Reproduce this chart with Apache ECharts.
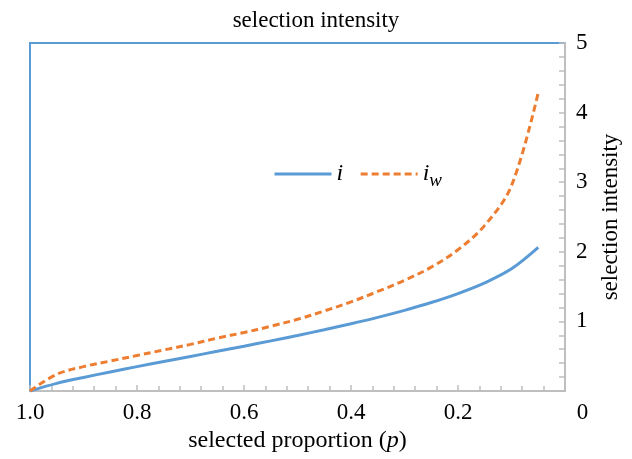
<!DOCTYPE html>
<html>
<head>
<meta charset="utf-8">
<title>selection intensity</title>
<script src="https://cdn.jsdelivr.net/npm/echarts@6/dist/echarts.min.js"></script>
<style>
    html, body {margin: 0; padding: 0; background: #fff;}
    #main {width: 632px; height: 459px;}
</style>
</head>
<body>
<div id="main"></div>
<script>
const FONT = '"Liberation Serif", "DejaVu Serif", serif';
const BLUE = '#5B9BD5';
const ORANGE = '#ED7D31';
const GREY = '#BFBFBF';

// selected proportion p
const proportions = [1.0, 0.95, 0.9, 0.85, 0.8, 0.75, 0.7, 0.65, 0.6, 0.55,
    0.5, 0.45, 0.4, 0.35, 0.3, 0.25, 0.2, 0.15, 0.1, 0.05];
const iValues = [0, 0.11, 0.195, 0.274, 0.35, 0.424, 0.497, 0.57, 0.644, 0.72,
    0.798, 0.88, 0.966, 1.058, 1.159, 1.271, 1.40, 1.554, 1.755, 2.063];
const iwValues = [0, 0.24, 0.35, 0.43, 0.51, 0.59, 0.67, 0.76, 0.84, 0.93,
    1.03, 1.15, 1.28, 1.43, 1.59, 1.78, 2.03, 2.38, 2.95, 4.29];
const xTicks = [1.0, 0.8, 0.6, 0.4, 0.2, 0];
const yTicks = [1, 2, 3, 4, 5];

function pairs(xs, ys) {
    return xs.map(function (x, k) { return [x, ys[k]]; });
}

let myChart = echarts.init(document.getElementById('main'), null, {renderer: 'canvas'});

let option = {
    animation: false,
    title: {
        text: 'selection intensity',
        left: 'center',
        top: 4,
        textStyle: {fontFamily: FONT, fontSize: 23, fontWeight: 'normal', color: '#000'}
    },
    legend: {
        left: 268,
        top: 157,
        itemWidth: 57,
        itemHeight: 14,
        itemGap: 16,
        itemStyle: {opacity: 0},
        lineStyle: {width: 3},
        formatter: function (name) {
            return name === 'i' ? '{it|i}' : '{it|i}{sub|w}';
        },
        textStyle: {
            fontFamily: FONT,
            color: '#000',
            rich: {
                it: {fontFamily: FONT, fontStyle: 'italic', fontSize: 24, color: '#000'},
                sub: {fontFamily: FONT, fontStyle: 'italic', fontSize: 19, color: '#000', padding: [14, 0, 0, 0]}
            }
        },
        data: ['i', 'iw']
    },
    grid: {
        left: 30,
        right: 67,
        top: 43,
        bottom: 68,
        show: true,
        borderColor: BLUE,
        borderWidth: 2,
        containLabel: false
    },
    xAxis: {
        type: 'value',
        inverse: true,
        min: 0,
        max: 1,
        interval: 0.2,
        name: 'selected proportion ({it|p})',
        nameLocation: 'middle',
        nameGap: 36,
        nameTextStyle: {
            fontFamily: FONT, fontSize: 24, color: '#000',
            rich: {it: {fontFamily: FONT, fontSize: 24, fontStyle: 'italic', color: '#000'}}
        },
        axisLine: {show: true, lineStyle: {color: GREY, width: 2}},
        axisTick: {show: true, inside: true, length: 6, lineStyle: {color: GREY, width: 1.5}},
        minorTick: {show: true, splitNumber: 5, length: 5, lineStyle: {color: GREY, width: 1.5}},
        splitLine: {show: false},
        axisLabel: {
            margin: 10,
            fontFamily: FONT,
            fontSize: 23,
            color: '#000',
            formatter: function (v) {
                if (xTicks.indexOf(v) < 0) return '';
                if (v === 0) return '{z|0}';
                return v.toFixed(1);
            },
            rich: {z: {fontFamily: FONT, fontSize: 23, color: '#000', padding: [0, 0, 0, 35]}}
        }
    },
    yAxis: {
        type: 'value',
        position: 'right',
        min: 0,
        max: 5,
        interval: 1,
        name: 'selection intensity',
        nameLocation: 'middle',
        nameRotate: 90,
        nameGap: 34,
        nameTextStyle: {fontFamily: FONT, fontSize: 23, color: '#000'},
        axisLine: {show: true, lineStyle: {color: GREY, width: 2}},
        axisTick: {show: true, inside: true, length: 6, lineStyle: {color: GREY, width: 1.5}},
        minorTick: {show: true, splitNumber: 5, length: 6, lineStyle: {color: GREY, width: 1.5}},
        splitLine: {show: false},
        axisLabel: {
            margin: 11,
            fontFamily: FONT,
            fontSize: 23,
            color: '#000',
            formatter: function (v) {
                return yTicks.indexOf(v) < 0 ? '' : String(v);
            }
        }
    },
    series: [
        {
            name: 'i',
            type: 'line',
            smooth: 0.35,
            symbol: 'none',
            color: BLUE,
            lineStyle: {color: BLUE, width: 3},
            data: pairs(proportions, iValues)
        },
        {
            name: 'iw',
            type: 'line',
            smooth: 0.35,
            symbol: 'none',
            color: ORANGE,
            lineStyle: {color: ORANGE, width: 3, type: [7, 4]},
            data: pairs(proportions, iwValues)
        }
    ]
};

myChart.setOption(option, true);
</script>
</body>
</html>
